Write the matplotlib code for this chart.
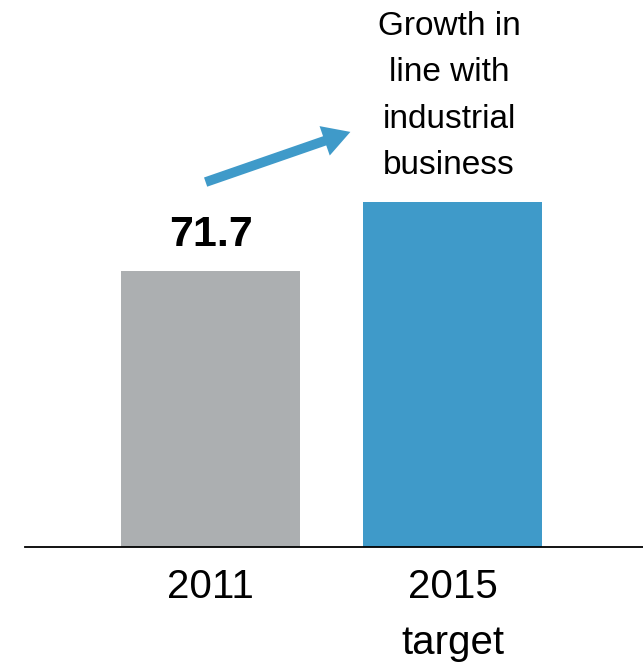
import matplotlib
matplotlib.use("Agg")
import matplotlib.pyplot as plt

categories = ["2011", "2015\ntarget"]
values = [71.7, 89.6]
colors = ["#acafb1", "#3f9ac9"]
value_labels = ["71.7", None]
note = "Growth in\nline with\nindustrial\nbusiness"

plt.rcParams["font.family"] = ["Liberation Sans", "DejaVu Sans"]

W, H = 643, 665
fig = plt.figure(figsize=(W / 100, H / 100), dpi=100)

# axes spans from the left end of the baseline to the right edge
base_y = 547
ax = fig.add_axes([25 / W, (H - base_y) / H, (W - 25) / W, base_y / H])

xs = list(range(len(categories)))
ax.bar(xs, values, width=0.74, color=colors)
ax.set_xlim(-0.7665, 1.787)
ax.set_ylim(0, 142.1)

for x, v, lab in zip(xs, values, value_labels):
    if lab:
        ax.text(x, v + 6.5, lab, ha="center", va="baseline", fontsize=31,
                fontweight="bold")

for s in ["top", "right", "left"]:
    ax.spines[s].set_visible(False)
ax.spines["bottom"].set_linewidth(1.3)
ax.set_yticks([])
ax.set_xticks(xs)
ax.set_xticklabels(categories, fontsize=29, linespacing=1.62)
ax.tick_params(axis="x", length=0, pad=15)

# growth arrow and note
fig.patches.append(matplotlib.patches.FancyArrowPatch(
    (203 / W, 1 - 183 / H), (353 / W, 1 - 131 / H), transform=fig.transFigure,
    arrowstyle="simple,head_length=1.4,head_width=1.6,tail_width=0.5",
    mutation_scale=14, color="#3f9ac9", lw=0))
fig.text(449 / W, 1 - 11 / H, note, ha="center", va="top", fontsize=24,
         linespacing=1.64)

fig.savefig("out.png", dpi=100)
